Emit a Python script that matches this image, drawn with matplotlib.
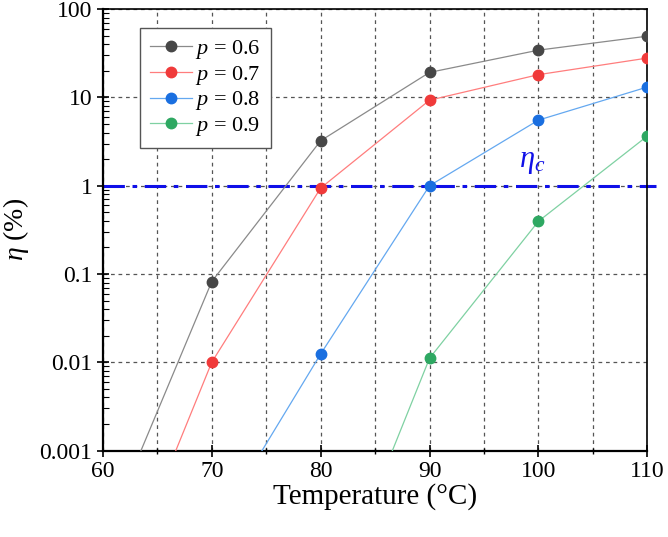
import matplotlib
matplotlib.use("Agg")
import matplotlib.pyplot as plt
from matplotlib.ticker import FixedLocator, FixedFormatter, LogLocator, NullFormatter

plt.rcParams["font.family"] = ["Liberation Serif", "DejaVu Serif"]
plt.rcParams["mathtext.fontset"] = "custom"
plt.rcParams["mathtext.rm"] = "Liberation Serif"
plt.rcParams["mathtext.it"] = "Liberation Serif:italic"

# data (points below 0.001 are off-axis, only the line shows)
temps = [60, 70, 80, 90, 100, 110]
eta_p06 = [9.3e-5, 0.082, 3.23, 19.2, 34.3, 49.4]
eta_p07 = [9.3e-6, 0.0100, 0.94, 9.3, 18.1, 27.9]
temps_p08 = [70, 80, 90, 100, 110]
eta_p08 = [1.15e-4, 0.0124, 1.0, 5.53, 13.1]
temps_p09 = [80, 90, 100, 110]
eta_p09 = [9.5e-6, 0.0111, 0.395, 3.65]
eta_c = 1.0

series = [
    ("$p$ = 0.6", temps, eta_p06, "#8a8a8a", "#474747"),
    ("$p$ = 0.7", temps, eta_p07, "#ff7d7d", "#f03a3a"),
    ("$p$ = 0.8", temps_p08, eta_p08, "#64a8f0", "#1a6fe0"),
    ("$p$ = 0.9", temps_p09, eta_p09, "#7fd1a2", "#2ea862"),
]

fig = plt.figure(figsize=(6.68, 5.37), dpi=100)
ax = fig.add_axes([0.154, 0.161, 0.815, 0.822])

for label, x, y, lc, mc in series:
    ax.plot(x, y, color=lc, lw=0.9, marker="o", ms=7.5,
            markerfacecolor=mc, markeredgecolor=mc, label=label, zorder=3)

ax.plot([60, 110.8], [eta_c, eta_c], color="#1010e8", lw=2.2,
        dashes=(7, 2.5, 1.5, 2.5), clip_on=False, zorder=2)
ax.text(98.2, 1.3, r"$\eta_c$", color="#1010e8", fontsize=22,
        ha="left", va="bottom")

ax.set_yscale("log")
ax.set_xlim(60, 110)
ax.set_ylim(0.001, 100)

ax.xaxis.set_major_locator(FixedLocator([60, 70, 80, 90, 100, 110]))
ax.xaxis.set_minor_locator(FixedLocator([65, 75, 85, 95, 105]))
yt = [0.001, 0.01, 0.1, 1, 10, 100]
ax.yaxis.set_major_locator(FixedLocator(yt))
ax.yaxis.set_major_formatter(FixedFormatter(["0.001", "0.01", "0.1", "1", "10", "100"]))
ax.yaxis.set_minor_locator(LogLocator(base=10, subs=range(2, 10)))
ax.yaxis.set_minor_formatter(NullFormatter())

ax.tick_params(axis="x", which="major", direction="inout", length=9, width=1.2,
               labelsize=17, pad=3)
ax.tick_params(axis="x", which="minor", direction="inout", length=5, width=1.0)
ax.tick_params(axis="y", which="major", direction="inout", length=9, width=1.2,
               labelsize=17, pad=3)
ax.tick_params(axis="y", which="minor", direction="in", length=4, width=0.8)

for side in ["left", "bottom"]:
    ax.spines[side].set_linewidth(1.6)
for side in ["top", "right"]:
    ax.spines[side].set_linewidth(1.2)

ax.grid(True, which="major", axis="both", color="#555555", lw=0.9, dashes=(3, 3))
ax.grid(True, which="minor", axis="x", color="#555555", lw=0.9, dashes=(3, 3))
ax.set_axisbelow(True)

ax.set_xlabel("Temperature (°C)", fontsize=21, labelpad=1)
ax.set_ylabel(r"$\eta$ (%)", fontsize=20, labelpad=6)

leg = ax.legend(loc="upper left", bbox_to_anchor=(0.068, 0.957), borderaxespad=0,
                fontsize=16, frameon=True, fancybox=False, framealpha=1,
                edgecolor="#555555", handlelength=1.9, handletextpad=0.15,
                labelspacing=0.12, borderpad=0.45)
leg.get_frame().set_linewidth(1.0)

fig.savefig("out.png", dpi=100)
